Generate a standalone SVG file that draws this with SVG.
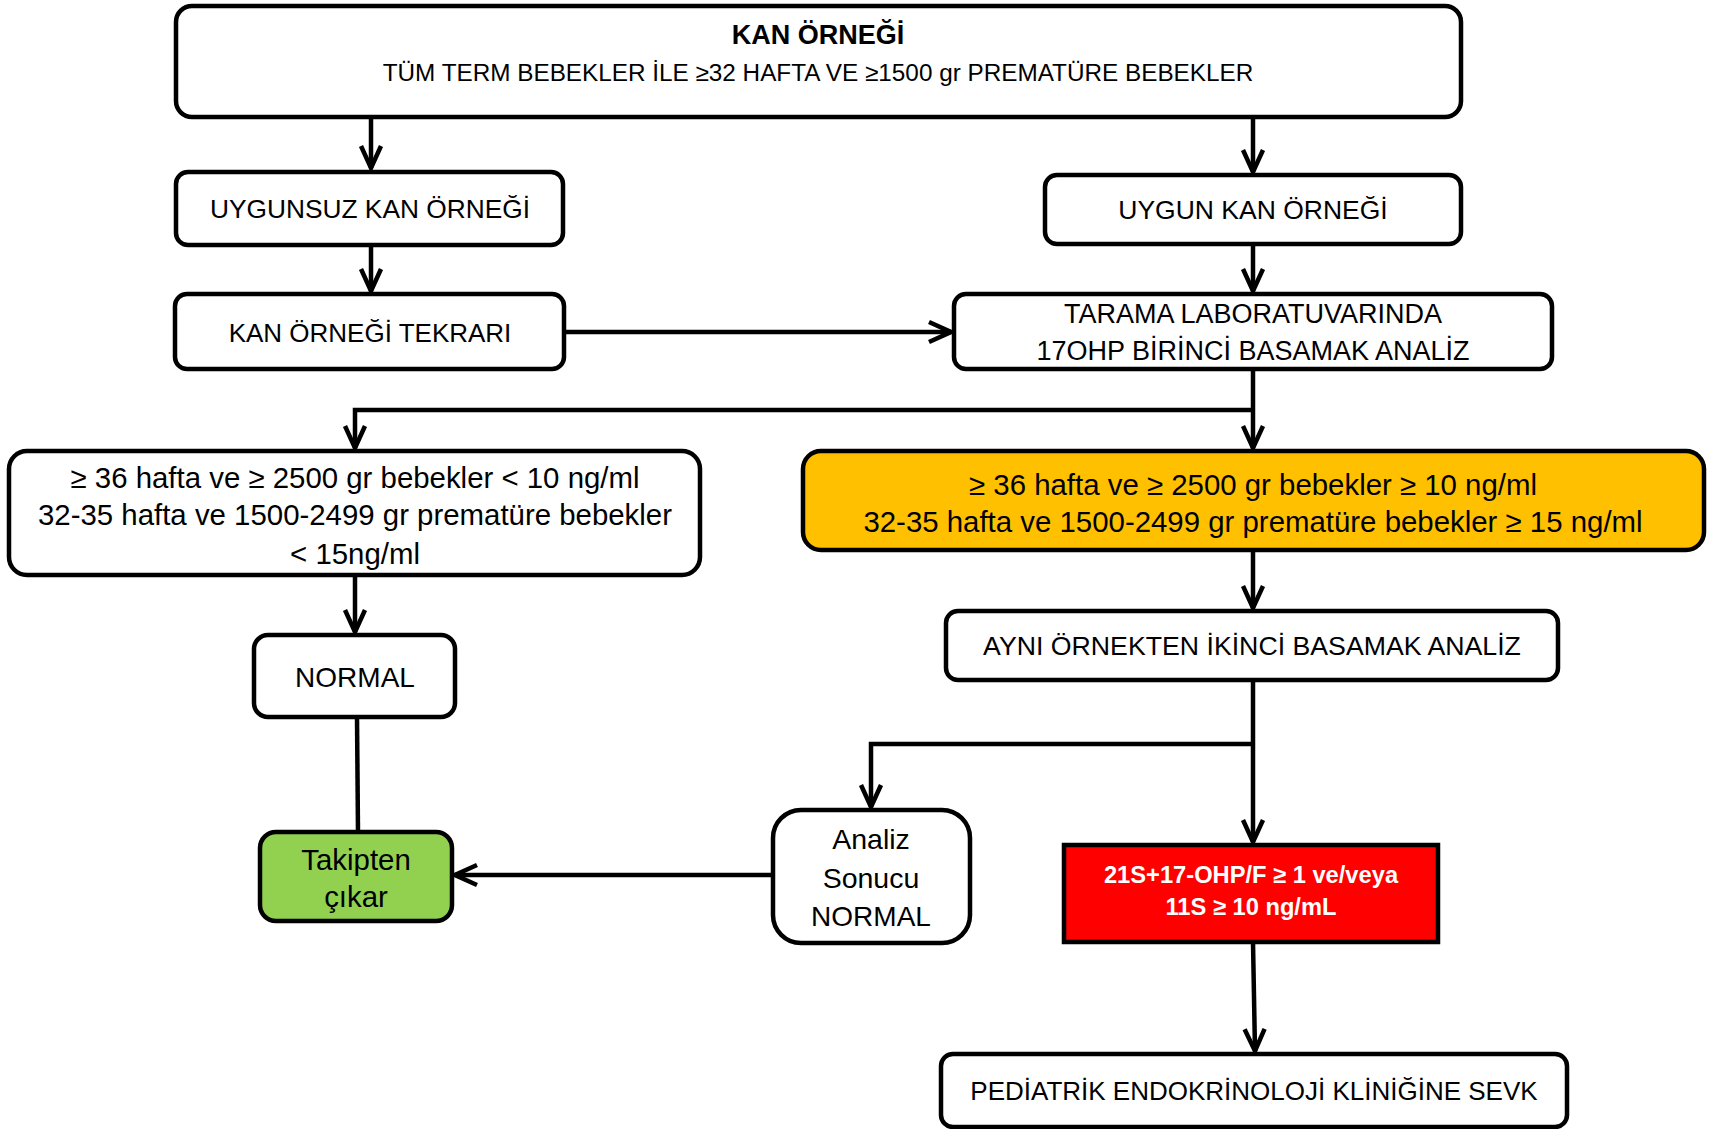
<svg xmlns="http://www.w3.org/2000/svg" width="1716" height="1129" viewBox="0 0 1716 1129">
<defs>
<style>
.box{fill:#fff;stroke:#000;stroke-width:4.5}
.t{font-family:"Liberation Sans",Arial,sans-serif;font-size:26px;fill:#000;text-anchor:middle;dominant-baseline:central}
.l{font-size:29.4px}
.c{fill:none;stroke:#000;stroke-width:4.5}
</style>
<marker id="ah" markerUnits="userSpaceOnUse" viewBox="-26 -15 30 30" refX="0" refY="0" markerWidth="30" markerHeight="30" orient="auto">
<path d="M-22,-10 L0,0 L-22,10" fill="none" stroke="#000" stroke-width="4.5" stroke-linejoin="miter"/>
</marker>
</defs>
<rect width="1716" height="1129" fill="#fff"/>
<g id="connectors">
<path class="c" d="M371,117 V168" marker-end="url(#ah)"/>
<path class="c" d="M1253,117 V172" marker-end="url(#ah)"/>
<path class="c" d="M371,245 V291" marker-end="url(#ah)"/>
<path class="c" d="M1253,244 V291" marker-end="url(#ah)"/>
<path class="c" d="M564,332 H951" marker-end="url(#ah)"/>
<path class="c" d="M1253,369 V448" marker-end="url(#ah)"/>
<path class="c" d="M1253,410 H355 V448" marker-end="url(#ah)"/>
<path class="c" d="M355,575 V632" marker-end="url(#ah)"/>
<path class="c" d="M1253,550 V608" marker-end="url(#ah)"/>
<path class="c" d="M1253,680 V842" marker-end="url(#ah)"/>
<path class="c" d="M1253,744 H871 V807" marker-end="url(#ah)"/>
<path class="c" d="M773,875 H455" marker-end="url(#ah)"/>
<path class="c" d="M357,717 L358,832"/>
<path class="c" d="M1253,942 L1255,1051" marker-end="url(#ah)"/>
</g>
<g id="n-top">
<rect class="box" x="176" y="6" width="1285" height="111" rx="16"/>
<text class="t" x="818" y="35" font-weight="bold" style="font-size:27px">KAN ÖRNEĞİ</text>
<text class="t" x="818" y="72" style="font-size:24.3px">TÜM TERM BEBEKLER İLE ≥32 HAFTA VE ≥1500 gr PREMATÜRE BEBEKLER</text>
</g>
<g id="n-uygunsuz">
<rect class="box" x="176" y="172" width="387" height="73" rx="12"/>
<text class="t" x="370" y="209" style="font-size:26.3px">UYGUNSUZ KAN ÖRNEĞİ</text>
</g>
<g id="n-uygun">
<rect class="box" x="1045" y="175" width="416" height="69" rx="12"/>
<text class="t" x="1253" y="210" style="font-size:26.5px">UYGUN KAN ÖRNEĞİ</text>
</g>
<g id="n-tekrar">
<rect class="box" x="175" y="294" width="389" height="75" rx="12"/>
<text class="t" x="370" y="333">KAN ÖRNEĞİ TEKRARI</text>
</g>
<g id="n-tarama">
<rect class="box" x="954" y="294" width="598" height="75" rx="12"/>
<text class="t" x="1253" y="314" style="font-size:27px">TARAMA LABORATUVARINDA</text>
<text class="t" x="1253" y="351" style="font-size:27px">17OHP BİRİNCİ BASAMAK ANALİZ</text>
</g>
<g id="n-low">
<rect class="box" x="9" y="451" width="691" height="124" rx="18"/>
<text class="t l" x="355" y="477">≥ 36 hafta ve ≥ 2500 gr bebekler &lt; 10 ng/ml</text>
<text class="t l" x="355" y="514">32-35 hafta ve 1500-2499 gr prematüre bebekler</text>
<text class="t l" x="355" y="553">&lt; 15ng/ml</text>
</g>
<g id="n-high">
<rect x="803" y="451" width="901" height="99" rx="18" fill="#FFC000" stroke="#000" stroke-width="4.5"/>
<text class="t l" x="1253" y="484">≥ 36 hafta ve ≥ 2500 gr bebekler ≥ 10 ng/ml</text>
<text class="t l" x="1253" y="521">32-35 hafta ve 1500-2499 gr prematüre bebekler ≥ 15 ng/ml</text>
</g>
<g id="n-normal">
<rect class="box" x="254" y="635" width="201" height="82" rx="14"/>
<text class="t" x="355" y="677" style="font-size:28px">NORMAL</text>
</g>
<g id="n-ayni">
<rect class="box" x="946" y="611" width="612" height="69" rx="12"/>
<text class="t" x="1252" y="646" style="font-size:26.7px">AYNI ÖRNEKTEN İKİNCİ BASAMAK ANALİZ</text>
</g>
<g id="n-analiz">
<rect class="box" x="773" y="810" width="197" height="133" rx="28"/>
<text class="t" x="871" y="839" style="font-size:28.5px">Analiz</text>
<text class="t" x="871" y="878" style="font-size:28.5px">Sonucu</text>
<text class="t" x="871" y="916" style="font-size:28px">NORMAL</text>
</g>
<g id="n-takip">
<rect x="260" y="832" width="192" height="89" rx="16" fill="#92D050" stroke="#000" stroke-width="4.5"/>
<text class="t l" x="356" y="859">Takipten</text>
<text class="t l" x="356" y="896">çıkar</text>
</g>
<g id="n-red">
<rect x="1064" y="845" width="374" height="97" fill="#FF0000" stroke="#000" stroke-width="4.5"/>
<text class="t" x="1251" y="875" font-weight="bold" style="fill:#fff;font-size:23.7px">21S+17-OHP/F ≥ 1 ve/veya</text>
<text class="t" x="1251" y="907" font-weight="bold" style="fill:#fff;font-size:23.7px">11S ≥ 10 ng/mL</text>
</g>
<g id="n-sevk">
<rect class="box" x="941" y="1054" width="626" height="73" rx="12"/>
<text class="t" x="1254" y="1091">PEDİATRİK ENDOKRİNOLOJİ KLİNİĞİNE SEVK</text>
</g>
</svg>
